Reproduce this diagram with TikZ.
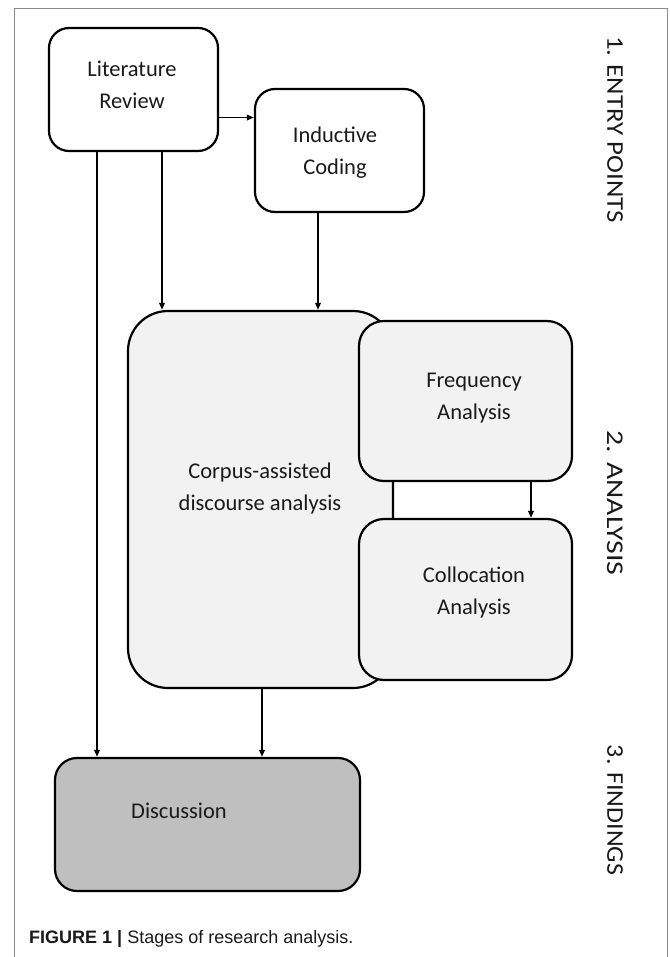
\documentclass[tikz,border=0pt]{standalone}
\usepackage{fontspec}
\setmainfont{Carlito}
\newfontfamily\capfont{Liberation Sans}
\usetikzlibrary{arrows.meta,calc}
\definecolor{lightfill}{HTML}{F2F2F2}
\definecolor{darkfill}{HTML}{BFBFBF}
\definecolor{framegray}{HTML}{8A8A8A}
\definecolor{txt}{HTML}{1A1A1A}
\tikzset{
  boxstyle/.style={draw=black, line width=2.2pt, inner sep=0pt, fill=white},
  boxtext/.style={text=txt, align=center, inner sep=0pt, font=\fontsize{22.5}{32}\selectfont},
  stagelabel/.style={text=txt, rotate=-90, inner sep=0pt, font=\fontsize{24}{28}\selectfont},
  arr/.style={draw=black, line width=1.7pt, -{Triangle[length=7pt,width=5.5pt]}},
  plainline/.style={draw=black, line width=1.7pt}
}
\begin{document}
\begin{tikzpicture}[x=1pt,y=-1pt]
\useasboundingbox (0,0) rectangle (669,957);
% frame
\draw[framegray, line width=1pt] (14,957) -- (14,9) -- (667,9) -- (667,957);

% boxes
\node[boxstyle, rounded corners=20pt, minimum width=169pt, minimum height=123pt] (lit) at (133.5,89.5) {};
\node[boxstyle, rounded corners=20pt, minimum width=169pt, minimum height=123pt] (ind) at (339.5,150.5) {};
\node[boxstyle, fill=lightfill, rounded corners=40pt, minimum width=265pt, minimum height=377pt] (corpus) at (260.5,499.5) {};
\node[boxstyle, fill=lightfill, rounded corners=25pt, minimum width=213pt, minimum height=160pt] (freq) at (465.5,401) {};
\node[boxstyle, fill=lightfill, rounded corners=25pt, minimum width=213pt, minimum height=161pt] (coll) at (465.5,599.5) {};
\node[boxstyle, fill=darkfill, rounded corners=22pt, minimum width=305pt, minimum height=133pt] (disc) at (207.5,824.5) {};

% texts
\node[boxtext] (litT) at (132,85) {Literature\\Review};
\node[boxtext] (indT) at (335,153) {Inductive\\Coding};
\node[boxtext] (corpusT) at (260,488) {Corpus-assisted\\discourse analysis};
\node[boxtext] (freqT) at (474,398) {Frequency\\Analysis};
\node[boxtext] (collT) at (474,592) {Collocation\\Analysis};
\node[boxtext] (discT) at (179,811) {Discussion};

% stage labels
\node[stagelabel] (s1) at (615,129.5) {\scalebox{1.12}[1]{1. ENTRY POINTS}};
\node[stagelabel] (s2) at (615,503) {\scalebox{1.24}[1]{2. ANALYSIS}};
\node[stagelabel] (s3) at (615,810) {\scalebox{1.08}[1]{3. FINDINGS}};

% connectors
\coordinate (litout) at ($(lit.south east)!0.276!(lit.north east)$);
\draw[arr] (litout) -- (litout -| ind.west);
\draw[arr] ([xshift=-36.5pt]lit.south) -- ([xshift=-36.5pt]lit.south |- disc.north);
\draw[arr] ([xshift=28.5pt]lit.south) -- ([xshift=28.5pt]lit.south |- corpus.north);
\draw[arr] ([xshift=-21.5pt]ind.south) -- ([xshift=-21.5pt]ind.south |- corpus.north);
\draw[arr] ([xshift=1.5pt]corpus.south) -- ([xshift=1.5pt]corpus.south |- disc.north);
\draw[arr] ([xshift=65.5pt]freq.south) -- ([xshift=65.5pt]freq.south |- coll.north);

% caption
\node[anchor=base west, inner sep=0pt, text=txt, font=\capfont\fontsize{18}{22}\selectfont] (cap) at (29,943) {\textbf{FIGURE 1 |} Stages of research analysis.};
\end{tikzpicture}
\end{document}
